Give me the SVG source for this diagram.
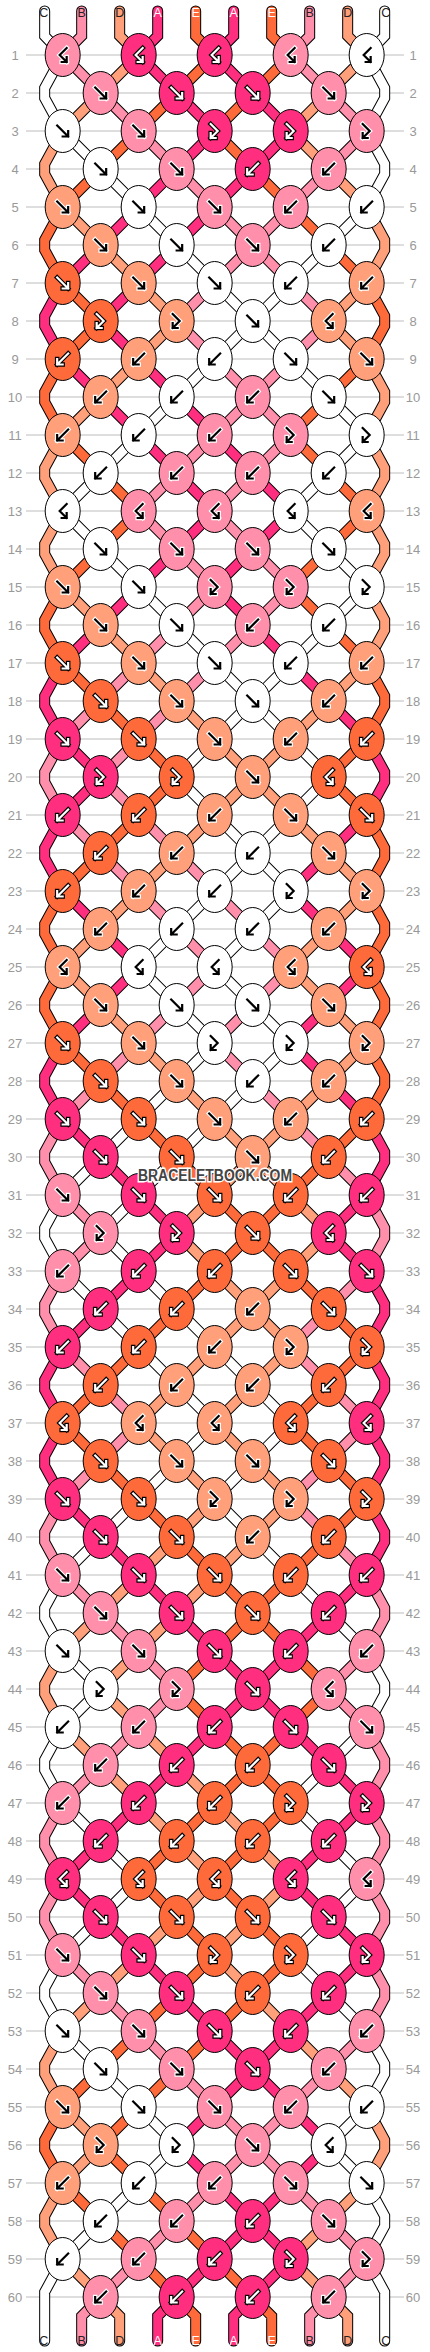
<svg xmlns="http://www.w3.org/2000/svg" xmlns:xlink="http://www.w3.org/1999/xlink" width="430" height="2352" viewBox="0 0 430 2352">
<style>
.o{fill:none;stroke:#000;stroke-width:11;stroke-linecap:round;stroke-linejoin:miter}
.s{fill:none;stroke-width:9;stroke-linecap:round;stroke-linejoin:miter}
.cA{stroke:#ff2e7e}.cB{stroke:#ff8fab}.cC{stroke:#ffffff}.cD{stroke:#ffa07a}.cE{stroke:#ff6a3a}
.w{color:#fff;stroke:#000}.k{color:#000;stroke:#fff}
.rl{fill:none;stroke:#bdbdbd;stroke-width:1}
.rn{font-family:"Liberation Sans",Arial,sans-serif;font-size:13px;fill:#999;text-anchor:middle;dominant-baseline:central}
.sl{font-family:"Liberation Sans",Arial,sans-serif;font-size:12.5px;text-anchor:middle}
.lw{fill:#fff}.lk{fill:#222}
.wm{font-family:"Liberation Sans",Arial,sans-serif;font-weight:bold;font-size:16px;fill:#444;stroke:#fff;stroke-width:3;paint-order:stroke;text-anchor:middle}
</style>
<defs>
<ellipse id="eA" rx="17.5" ry="21.5" fill="#ff2e7e" stroke="#000"/>
<ellipse id="eB" rx="17.5" ry="21.5" fill="#ff8fab" stroke="#000"/>
<ellipse id="eC" rx="17.5" ry="21.5" fill="#ffffff" stroke="#000"/>
<ellipse id="eD" rx="17.5" ry="21.5" fill="#ffa07a" stroke="#000"/>
<ellipse id="eE" rx="17.5" ry="21.5" fill="#ff6a3a" stroke="#000"/>
<g id="f" fill="none" stroke-linecap="square"><path d="M-5.5-5.5L5.5 5.5M0 5.5H5.5V0" stroke-width="4.5"/><path d="M-5.5-5.5L5.5 5.5M0 5.5H5.5V0" stroke="currentColor" stroke-width="2.2"/></g>
<g id="b" fill="none" stroke-linecap="square"><path d="M5.5-5.5L-5.5 5.5M0 5.5H-5.5V0" stroke-width="4.5"/><path d="M5.5-5.5L-5.5 5.5M0 5.5H-5.5V0" stroke="currentColor" stroke-width="2.2"/></g>
<g id="fb" fill="none" stroke-linecap="square"><path d="M-4-7L3 0L-4 7M1 7H-4V2" stroke-width="4.5"/><path d="M-4-7L3 0L-4 7M1 7H-4V2" stroke="currentColor" stroke-width="2.2"/></g>
<g id="bf" fill="none" stroke-linecap="square"><path d="M4-7L-3 0L4 7M-1 7H4V2" stroke-width="4.5"/><path d="M4-7L-3 0L4 7M-1 7H4V2" stroke="currentColor" stroke-width="2.2"/></g>
<path id="xA" d="M19 228L1 261V271L19 304M19 608L1 641V651L19 684M19 760L1 793V803L19 836M19 988L1 1021V1031L19 1064M19 1292L1 1325V1335L19 1368M19 1368L1 1401V1411L19 1444M323 684L341 717V727L323 760M323 1064L341 1097V1107L323 1140M323 1216L341 1249V1259L323 1292M323 1292L341 1325V1335L323 1368M323 1368L341 1401V1411L323 1444M323 1444L341 1477V1487L323 1520M114 -44V-19L95 0M190 -44V-19L171 0M133 2242L114 2261V2286M209 2242L190 2261V2286"/>
<path id="xB" d="M19 684L1 717V727L19 760M19 1064L1 1097V1107L19 1140M19 1216L1 1249V1259L19 1292M19 1444L1 1477V1487L19 1520M19 1748L1 1781V1791L19 1824M19 1824L1 1857V1867L19 1900M323 1140L341 1173V1183L323 1216M323 1520L341 1553V1563L323 1596M323 1672L341 1705V1715L323 1748M323 1748L341 1781V1791L323 1824M323 1824L341 1857V1867L323 1900M323 1900L341 1933V1943L323 1976M38 -44V-19L19 0M266 -44V-19L247 0M57 2242L38 2261V2286M285 2242L266 2261V2286"/>
<path id="xC" d="M19 0L1 33V43L19 76M19 1140L1 1173V1183L19 1216M19 1520L1 1553V1563L19 1596M19 1672L1 1705V1715L19 1748M19 1900L1 1933V1943L19 1976M19 2204L1 2237V2286M323 0L341 33V43L323 76M323 76L341 109V119L323 152M323 1596L341 1629V1639L323 1672M323 1976L341 2009V2019L323 2052M323 2128L341 2161V2171L323 2204M323 2204L341 2237V2286M1 -44V-19L19 0M341 -44V-19L323 0"/>
<path id="xD" d="M19 76L1 109V119L19 152M19 380L1 413V423L19 456M19 456L1 489V499L19 532M19 1596L1 1629V1639L19 1672M19 1976L1 2009V2019L19 2052M19 2128L1 2161V2171L19 2204M323 152L341 185V195L323 228M323 304L341 337V347L323 380M323 380L341 413V423L323 456M323 456L341 489V499L323 532M323 532L341 565V575L323 608M323 2052L341 2085V2095L323 2128M76 -44V-19L95 0M304 -44V-19L323 0M57 2242L76 2261V2286M285 2242L304 2261V2286"/>
<path id="xE" d="M19 152L1 185V195L19 228M19 304L1 337V347L19 380M19 532L1 565V575L19 608M19 836L1 869V879L19 912M19 912L1 945V955L19 988M19 2052L1 2085V2095L19 2128M323 228L341 261V271L323 304M323 608L341 641V651L323 684M323 760L341 793V803L323 836M323 836L341 869V879L323 912M323 912L341 945V955L323 988M323 988L341 1021V1031L323 1064M152 -44V-19L171 0M228 -44V-19L247 0M133 2242L152 2261V2286M209 2242L228 2261V2286"/>
</defs>
<rect width="430" height="2352" fill="#fff"/>
<g id="rows">
<path class="rl" d="M26 55H404M26 93H404M26 131H404M26 169H404M26 207H404M26 245H404M26 283H404M26 321H404M26 359H404M26 397H404M26 435H404M26 473H404M26 511H404M26 549H404M26 587H404M26 625H404M26 663H404M26 701H404M26 739H404M26 777H404M26 815H404M26 853H404M26 891H404M26 929H404M26 967H404M26 1005H404M26 1043H404M26 1081H404M26 1119H404M26 1157H404M26 1195H404M26 1233H404M26 1271H404M26 1309H404M26 1347H404M26 1385H404M26 1423H404M26 1461H404M26 1499H404M26 1537H404M26 1575H404M26 1613H404M26 1651H404M26 1689H404M26 1727H404M26 1765H404M26 1803H404M26 1841H404M26 1879H404M26 1917H404M26 1955H404M26 1993H404M26 2031H404M26 2069H404M26 2107H404M26 2145H404M26 2183H404M26 2221H404M26 2259H404M26 2297H404"/>
<g class="rn">
<text x="15" y="55">1</text><text x="413" y="55">1</text>
<text x="15" y="93">2</text><text x="413" y="93">2</text>
<text x="15" y="131">3</text><text x="413" y="131">3</text>
<text x="15" y="169">4</text><text x="413" y="169">4</text>
<text x="15" y="207">5</text><text x="413" y="207">5</text>
<text x="15" y="245">6</text><text x="413" y="245">6</text>
<text x="15" y="283">7</text><text x="413" y="283">7</text>
<text x="15" y="321">8</text><text x="413" y="321">8</text>
<text x="15" y="359">9</text><text x="413" y="359">9</text>
<text x="15" y="397">10</text><text x="413" y="397">10</text>
<text x="15" y="435">11</text><text x="413" y="435">11</text>
<text x="15" y="473">12</text><text x="413" y="473">12</text>
<text x="15" y="511">13</text><text x="413" y="511">13</text>
<text x="15" y="549">14</text><text x="413" y="549">14</text>
<text x="15" y="587">15</text><text x="413" y="587">15</text>
<text x="15" y="625">16</text><text x="413" y="625">16</text>
<text x="15" y="663">17</text><text x="413" y="663">17</text>
<text x="15" y="701">18</text><text x="413" y="701">18</text>
<text x="15" y="739">19</text><text x="413" y="739">19</text>
<text x="15" y="777">20</text><text x="413" y="777">20</text>
<text x="15" y="815">21</text><text x="413" y="815">21</text>
<text x="15" y="853">22</text><text x="413" y="853">22</text>
<text x="15" y="891">23</text><text x="413" y="891">23</text>
<text x="15" y="929">24</text><text x="413" y="929">24</text>
<text x="15" y="967">25</text><text x="413" y="967">25</text>
<text x="15" y="1005">26</text><text x="413" y="1005">26</text>
<text x="15" y="1043">27</text><text x="413" y="1043">27</text>
<text x="15" y="1081">28</text><text x="413" y="1081">28</text>
<text x="15" y="1119">29</text><text x="413" y="1119">29</text>
<text x="15" y="1157">30</text><text x="413" y="1157">30</text>
<text x="15" y="1195">31</text><text x="413" y="1195">31</text>
<text x="15" y="1233">32</text><text x="413" y="1233">32</text>
<text x="15" y="1271">33</text><text x="413" y="1271">33</text>
<text x="15" y="1309">34</text><text x="413" y="1309">34</text>
<text x="15" y="1347">35</text><text x="413" y="1347">35</text>
<text x="15" y="1385">36</text><text x="413" y="1385">36</text>
<text x="15" y="1423">37</text><text x="413" y="1423">37</text>
<text x="15" y="1461">38</text><text x="413" y="1461">38</text>
<text x="15" y="1499">39</text><text x="413" y="1499">39</text>
<text x="15" y="1537">40</text><text x="413" y="1537">40</text>
<text x="15" y="1575">41</text><text x="413" y="1575">41</text>
<text x="15" y="1613">42</text><text x="413" y="1613">42</text>
<text x="15" y="1651">43</text><text x="413" y="1651">43</text>
<text x="15" y="1689">44</text><text x="413" y="1689">44</text>
<text x="15" y="1727">45</text><text x="413" y="1727">45</text>
<text x="15" y="1765">46</text><text x="413" y="1765">46</text>
<text x="15" y="1803">47</text><text x="413" y="1803">47</text>
<text x="15" y="1841">48</text><text x="413" y="1841">48</text>
<text x="15" y="1879">49</text><text x="413" y="1879">49</text>
<text x="15" y="1917">50</text><text x="413" y="1917">50</text>
<text x="15" y="1955">51</text><text x="413" y="1955">51</text>
<text x="15" y="1993">52</text><text x="413" y="1993">52</text>
<text x="15" y="2031">53</text><text x="413" y="2031">53</text>
<text x="15" y="2069">54</text><text x="413" y="2069">54</text>
<text x="15" y="2107">55</text><text x="413" y="2107">55</text>
<text x="15" y="2145">56</text><text x="413" y="2145">56</text>
<text x="15" y="2183">57</text><text x="413" y="2183">57</text>
<text x="15" y="2221">58</text><text x="413" y="2221">58</text>
<text x="15" y="2259">59</text><text x="413" y="2259">59</text>
<text x="15" y="2297">60</text><text x="413" y="2297">60</text>
</g>
</g>
<g transform="translate(43.67 55)">
<g id="connectors">
<path class="o" d="M247 0l76 76M171 0l152 152M95 0l228 228M19 0l304 304M19 76l304 304M19 152l304 304M19 228l304 304M19 304l304 304M19 380l304 304M19 456l304 304M19 532l304 304M19 608l304 304M19 684l304 304M19 760l304 304M19 836l304 304M19 912l304 304M19 988l304 304M19 1064l304 304M19 1140l304 304M19 1216l304 304M19 1292l304 304M19 1368l304 304M19 1444l304 304M19 1520l304 304M19 1596l304 304M19 1672l304 304M19 1748l304 304M19 1824l304 304M19 1900l304 304M19 1976l266 266M19 2052l190 190M19 2128l114 114M19 2204l38 38M95 0l-76 76M171 0l-152 152M247 0l-228 228M323 0l-304 304M323 76l-304 304M323 152l-304 304M323 228l-304 304M323 304l-304 304M323 380l-304 304M323 456l-304 304M323 532l-304 304M323 608l-304 304M323 684l-304 304M323 760l-304 304M323 836l-304 304M323 912l-304 304M323 988l-304 304M323 1064l-304 304M323 1140l-304 304M323 1216l-304 304M323 1292l-304 304M323 1368l-304 304M323 1444l-304 304M323 1520l-304 304M323 1596l-304 304M323 1672l-304 304M323 1748l-304 304M323 1824l-304 304M323 1900l-304 304M323 1976l-266 266M323 2052l-190 190M323 2128l-114 114M323 2204l-38 38"/>
<use href="#xA" class="o"/><use href="#xB" class="o"/><use href="#xC" class="o"/><use href="#xD" class="o"/><use href="#xE" class="o"/>
<path class="s cA" d="M95 0l38 38M171 0l38 38M133 38l38 38M209 38l38 38M171 76l-38 38M247 76l-38 38M133 114l-38 38M209 114l-38 38M95 152l-38 38M171 152l-38 38M57 190l-38 38M133 190l-38 38M95 228l-38 38M57 266l38 38M19 304l38 38M95 304l38 38M57 342l38 38M133 342l38 38M95 380l38 38M171 380l38 38M133 418l38 38M209 418l38 38M171 456l-38 38M247 456l-38 38M133 494l-38 38M209 494l-38 38M95 532l-38 38M171 532l38 38M57 570l-38 38M209 570l38 38M247 608l38 38M285 646l38 38M19 684l38 38M57 722l-38 38M323 760l-38 38M285 798l-38 38M19 836l38 38M247 836l38 38M57 874l38 38M285 874l38 38M95 912l-38 38M323 912l-38 38M57 950l-38 38M285 950l-38 38M247 988l38 38M285 1026l38 38M19 1064l38 38M57 1102l38 38M95 1140l38 38M323 1140l-38 38M133 1178l-38 38M285 1178l38 38M95 1216l-38 38M57 1254l-38 38M19 1444l38 38M57 1482l38 38M95 1520l38 38M323 1520l-38 38M133 1558l38 38M285 1558l-38 38M171 1596l38 38M247 1596l-38 38M209 1634l-38 38M209 1634l38 38M171 1672l-38 38M247 1672l38 38M133 1710l-38 38M285 1710l38 38M95 1748l-38 38M323 1748l-38 38M57 1786l-38 38M285 1786l-38 38M19 1824l38 38M247 1824l38 38M57 1862l38 38M285 1862l38 38M95 1900l38 38M323 1900l-38 38M133 1938l38 38M285 1938l-38 38M171 1976l38 38M247 1976l-38 38M209 2014l-38 38M209 2014l38 38M171 2052l-38 38M247 2052l38 38M133 2090l38 38M285 2090l-38 38M171 2128l38 38M247 2128l-38 38M209 2166l-38 38M209 2166l38 38M171 2204l-38 38M247 2204l-38 38"/>
<path class="s cB" d="M19 0l38 38M247 0l38 38M57 38l38 38M285 38l38 38M95 76l38 38M323 76l-38 38M133 114l38 38M285 114l-38 38M171 152l38 38M247 152l-38 38M209 190l-38 38M209 190l38 38M171 228l-38 38M247 228l38 38M133 266l38 38M285 266l-38 38M171 304l38 38M247 304l-38 38M209 342l-38 38M209 342l38 38M171 380l-38 38M247 380l-38 38M133 418l-38 38M209 418l-38 38M95 456l38 38M171 456l38 38M133 494l38 38M209 494l38 38M171 532l-38 38M247 532l-38 38M133 570l-38 38M209 570l-38 38M95 608l-38 38M171 608l-38 38M57 646l-38 38M133 646l-38 38M95 684l-38 38M57 722l38 38M19 760l38 38M95 760l38 38M57 798l38 38M133 798l38 38M95 836l38 38M171 836l38 38M133 874l38 38M209 874l38 38M171 912l-38 38M247 912l-38 38M133 950l-38 38M209 950l-38 38M95 988l-38 38M171 988l38 38M57 1026l-38 38M209 1026l38 38M247 1064l38 38M285 1102l38 38M19 1140l38 38M57 1178l-38 38M323 1216l-38 38M285 1254l-38 38M19 1292l38 38M247 1292l38 38M57 1330l38 38M285 1330l38 38M95 1368l-38 38M323 1368l-38 38M57 1406l-38 38M285 1406l-38 38M247 1444l38 38M285 1482l38 38M19 1520l38 38M57 1558l38 38M95 1596l38 38M323 1596l-38 38M133 1634l-38 38M285 1634l38 38M95 1672l-38 38M57 1710l-38 38M19 1900l38 38M57 1938l38 38M95 1976l38 38M323 1976l-38 38M133 2014l38 38M285 2014l-38 38M171 2052l38 38M247 2052l-38 38M209 2090l-38 38M209 2090l38 38M171 2128l-38 38M247 2128l38 38M133 2166l-38 38M285 2166l38 38M95 2204l-38 38M323 2204l-38 38"/>
<path class="s cC" d="M19 76l38 38M57 114l38 38M95 152l38 38M323 152l-38 38M133 190l38 38M285 190l-38 38M171 228l38 38M247 228l-38 38M209 266l-38 38M209 266l38 38M171 304l-38 38M247 304l38 38M133 342l-38 38M285 342l38 38M95 380l-38 38M323 380l-38 38M57 418l-38 38M285 418l-38 38M19 456l38 38M247 456l38 38M57 494l38 38M285 494l38 38M95 532l38 38M323 532l-38 38M133 570l38 38M285 570l-38 38M171 608l38 38M247 608l-38 38M209 646l-38 38M209 646l38 38M171 684l-38 38M247 684l38 38M133 722l38 38M285 722l-38 38M171 760l38 38M247 760l-38 38M209 798l-38 38M209 798l38 38M171 836l-38 38M247 836l-38 38M133 874l-38 38M209 874l-38 38M95 912l38 38M171 912l38 38M133 950l38 38M209 950l38 38M171 988l-38 38M247 988l-38 38M133 1026l-38 38M209 1026l-38 38M95 1064l-38 38M171 1064l-38 38M57 1102l-38 38M133 1102l-38 38M95 1140l-38 38M57 1178l38 38M19 1216l38 38M95 1216l38 38M57 1254l38 38M133 1254l38 38M95 1292l38 38M171 1292l38 38M133 1330l38 38M209 1330l38 38M171 1368l-38 38M247 1368l-38 38M133 1406l-38 38M209 1406l-38 38M95 1444l-38 38M171 1444l38 38M57 1482l-38 38M209 1482l38 38M247 1520l38 38M285 1558l38 38M19 1596l38 38M57 1634l-38 38M323 1672l-38 38M285 1710l-38 38M19 1748l38 38M247 1748l38 38M57 1786l38 38M285 1786l38 38M95 1824l-38 38M323 1824l-38 38M57 1862l-38 38M285 1862l-38 38M247 1900l38 38M285 1938l38 38M19 1976l38 38M57 2014l38 38M95 2052l38 38M323 2052l-38 38M133 2090l-38 38M285 2090l38 38M95 2128l-38 38M57 2166l-38 38"/>
<path class="s cD" d="M95 0l-38 38M323 0l-38 38M57 38l-38 38M285 38l-38 38M247 76l38 38M285 114l38 38M19 152l38 38M57 190l38 38M95 228l38 38M323 228l-38 38M133 266l-38 38M285 266l38 38M95 304l-38 38M57 342l-38 38M19 532l38 38M57 570l38 38M95 608l38 38M323 608l-38 38M133 646l38 38M285 646l-38 38M171 684l38 38M247 684l-38 38M209 722l-38 38M209 722l38 38M171 760l-38 38M247 760l38 38M133 798l-38 38M285 798l38 38M95 836l-38 38M323 836l-38 38M57 874l-38 38M285 874l-38 38M19 912l38 38M247 912l38 38M57 950l38 38M285 950l38 38M95 988l38 38M323 988l-38 38M133 1026l38 38M285 1026l-38 38M171 1064l38 38M247 1064l-38 38M209 1102l-38 38M209 1102l38 38M171 1140l-38 38M247 1140l38 38M133 1178l38 38M285 1178l-38 38M171 1216l38 38M247 1216l-38 38M209 1254l-38 38M209 1254l38 38M171 1292l-38 38M247 1292l-38 38M133 1330l-38 38M209 1330l-38 38M95 1368l38 38M171 1368l38 38M133 1406l38 38M209 1406l38 38M171 1444l-38 38M247 1444l-38 38M133 1482l-38 38M209 1482l-38 38M95 1520l-38 38M171 1520l-38 38M57 1558l-38 38M133 1558l-38 38M95 1596l-38 38M57 1634l38 38M19 1672l38 38M95 1672l38 38M57 1710l38 38M133 1710l38 38M95 1748l38 38M171 1748l38 38M133 1786l38 38M209 1786l38 38M171 1824l-38 38M247 1824l-38 38M133 1862l-38 38M209 1862l-38 38M95 1900l-38 38M171 1900l38 38M57 1938l-38 38M209 1938l38 38M247 1976l38 38M285 2014l38 38M19 2052l38 38M57 2090l-38 38M323 2128l-38 38M285 2166l-38 38M19 2204l38 38M247 2204l38 38"/>
<path class="s cE" d="M171 0l-38 38M247 0l-38 38M133 38l-38 38M209 38l-38 38M95 76l-38 38M171 76l38 38M57 114l-38 38M209 114l38 38M247 152l38 38M285 190l38 38M19 228l38 38M57 266l-38 38M323 304l-38 38M285 342l-38 38M19 380l38 38M247 380l38 38M57 418l38 38M285 418l38 38M95 456l-38 38M323 456l-38 38M57 494l-38 38M285 494l-38 38M247 532l38 38M285 570l38 38M19 608l38 38M57 646l38 38M95 684l38 38M323 684l-38 38M133 722l-38 38M285 722l38 38M95 760l-38 38M57 798l-38 38M19 988l38 38M57 1026l38 38M95 1064l38 38M323 1064l-38 38M133 1102l38 38M285 1102l-38 38M171 1140l38 38M247 1140l-38 38M209 1178l-38 38M209 1178l38 38M171 1216l-38 38M247 1216l38 38M133 1254l-38 38M285 1254l38 38M95 1292l-38 38M323 1292l-38 38M57 1330l-38 38M285 1330l-38 38M19 1368l38 38M247 1368l38 38M57 1406l38 38M285 1406l38 38M95 1444l38 38M323 1444l-38 38M133 1482l38 38M285 1482l-38 38M171 1520l38 38M247 1520l-38 38M209 1558l-38 38M209 1558l38 38M171 1596l-38 38M247 1596l38 38M133 1634l38 38M285 1634l-38 38M171 1672l38 38M247 1672l-38 38M209 1710l-38 38M209 1710l38 38M171 1748l-38 38M247 1748l-38 38M133 1786l-38 38M209 1786l-38 38M95 1824l38 38M171 1824l38 38M133 1862l38 38M209 1862l38 38M171 1900l-38 38M247 1900l-38 38M133 1938l-38 38M209 1938l-38 38M95 1976l-38 38M171 1976l-38 38M57 2014l-38 38M133 2014l-38 38M95 2052l-38 38M57 2090l38 38M19 2128l38 38M95 2128l38 38M57 2166l38 38M133 2166l38 38M95 2204l38 38M171 2204l38 38"/>
<use href="#xA" class="s cA"/><use href="#xB" class="s cB"/><use href="#xC" class="s cC"/><use href="#xD" class="s cD"/><use href="#xE" class="s cE"/>
</g>
<g id="knots">
<g id="k1-1" class="k" transform="translate(19 0)"><use href="#eB"/><use href="#bf"/></g>
<g id="k1-2" class="w" transform="translate(95 0)"><use href="#eA"/><use href="#bf"/></g>
<g id="k1-3" class="w" transform="translate(171 0)"><use href="#eA"/><use href="#bf"/></g>
<g id="k1-4" class="k" transform="translate(247 0)"><use href="#eB"/><use href="#bf"/></g>
<g id="k1-5" class="k" transform="translate(323 0)"><use href="#eC"/><use href="#bf"/></g>
<g id="k2-1" class="k" transform="translate(57 38)"><use href="#eB"/><use href="#f"/></g>
<g id="k2-2" class="w" transform="translate(133 38)"><use href="#eA"/><use href="#f"/></g>
<g id="k2-3" class="w" transform="translate(209 38)"><use href="#eA"/><use href="#f"/></g>
<g id="k2-4" class="k" transform="translate(285 38)"><use href="#eB"/><use href="#f"/></g>
<g id="k3-1" class="k" transform="translate(19 76)"><use href="#eC"/><use href="#f"/></g>
<g id="k3-2" class="k" transform="translate(95 76)"><use href="#eB"/><use href="#f"/></g>
<g id="k3-3" class="w" transform="translate(171 76)"><use href="#eA"/><use href="#fb"/></g>
<g id="k3-4" class="w" transform="translate(247 76)"><use href="#eA"/><use href="#fb"/></g>
<g id="k3-5" class="k" transform="translate(323 76)"><use href="#eB"/><use href="#fb"/></g>
<g id="k4-1" class="k" transform="translate(57 114)"><use href="#eC"/><use href="#f"/></g>
<g id="k4-2" class="k" transform="translate(133 114)"><use href="#eB"/><use href="#f"/></g>
<g id="k4-3" class="w" transform="translate(209 114)"><use href="#eA"/><use href="#b"/></g>
<g id="k4-4" class="k" transform="translate(285 114)"><use href="#eB"/><use href="#b"/></g>
<g id="k5-1" class="k" transform="translate(19 152)"><use href="#eD"/><use href="#f"/></g>
<g id="k5-2" class="k" transform="translate(95 152)"><use href="#eC"/><use href="#f"/></g>
<g id="k5-3" class="k" transform="translate(171 152)"><use href="#eB"/><use href="#f"/></g>
<g id="k5-4" class="k" transform="translate(247 152)"><use href="#eB"/><use href="#b"/></g>
<g id="k5-5" class="k" transform="translate(323 152)"><use href="#eC"/><use href="#b"/></g>
<g id="k6-1" class="k" transform="translate(57 190)"><use href="#eD"/><use href="#f"/></g>
<g id="k6-2" class="k" transform="translate(133 190)"><use href="#eC"/><use href="#f"/></g>
<g id="k6-3" class="k" transform="translate(209 190)"><use href="#eB"/><use href="#f"/></g>
<g id="k6-4" class="k" transform="translate(285 190)"><use href="#eC"/><use href="#b"/></g>
<g id="k7-1" class="w" transform="translate(19 228)"><use href="#eE"/><use href="#f"/></g>
<g id="k7-2" class="k" transform="translate(95 228)"><use href="#eD"/><use href="#f"/></g>
<g id="k7-3" class="k" transform="translate(171 228)"><use href="#eC"/><use href="#f"/></g>
<g id="k7-4" class="k" transform="translate(247 228)"><use href="#eC"/><use href="#b"/></g>
<g id="k7-5" class="k" transform="translate(323 228)"><use href="#eD"/><use href="#b"/></g>
<g id="k8-1" class="w" transform="translate(57 266)"><use href="#eE"/><use href="#fb"/></g>
<g id="k8-2" class="k" transform="translate(133 266)"><use href="#eD"/><use href="#fb"/></g>
<g id="k8-3" class="k" transform="translate(209 266)"><use href="#eC"/><use href="#f"/></g>
<g id="k8-4" class="k" transform="translate(285 266)"><use href="#eD"/><use href="#bf"/></g>
<g id="k9-1" class="w" transform="translate(19 304)"><use href="#eE"/><use href="#b"/></g>
<g id="k9-2" class="k" transform="translate(95 304)"><use href="#eD"/><use href="#b"/></g>
<g id="k9-3" class="k" transform="translate(171 304)"><use href="#eC"/><use href="#b"/></g>
<g id="k9-4" class="k" transform="translate(247 304)"><use href="#eC"/><use href="#f"/></g>
<g id="k9-5" class="k" transform="translate(323 304)"><use href="#eD"/><use href="#f"/></g>
<g id="k10-1" class="k" transform="translate(57 342)"><use href="#eD"/><use href="#b"/></g>
<g id="k10-2" class="k" transform="translate(133 342)"><use href="#eC"/><use href="#b"/></g>
<g id="k10-3" class="k" transform="translate(209 342)"><use href="#eB"/><use href="#b"/></g>
<g id="k10-4" class="k" transform="translate(285 342)"><use href="#eC"/><use href="#f"/></g>
<g id="k11-1" class="k" transform="translate(19 380)"><use href="#eD"/><use href="#b"/></g>
<g id="k11-2" class="k" transform="translate(95 380)"><use href="#eC"/><use href="#b"/></g>
<g id="k11-3" class="k" transform="translate(171 380)"><use href="#eB"/><use href="#b"/></g>
<g id="k11-4" class="k" transform="translate(247 380)"><use href="#eB"/><use href="#fb"/></g>
<g id="k11-5" class="k" transform="translate(323 380)"><use href="#eC"/><use href="#fb"/></g>
<g id="k12-1" class="k" transform="translate(57 418)"><use href="#eC"/><use href="#b"/></g>
<g id="k12-2" class="k" transform="translate(133 418)"><use href="#eB"/><use href="#b"/></g>
<g id="k12-3" class="k" transform="translate(209 418)"><use href="#eB"/><use href="#b"/></g>
<g id="k12-4" class="k" transform="translate(285 418)"><use href="#eC"/><use href="#b"/></g>
<g id="k13-1" class="k" transform="translate(19 456)"><use href="#eC"/><use href="#bf"/></g>
<g id="k13-2" class="k" transform="translate(95 456)"><use href="#eB"/><use href="#bf"/></g>
<g id="k13-3" class="k" transform="translate(171 456)"><use href="#eB"/><use href="#bf"/></g>
<g id="k13-4" class="k" transform="translate(247 456)"><use href="#eC"/><use href="#bf"/></g>
<g id="k13-5" class="k" transform="translate(323 456)"><use href="#eD"/><use href="#bf"/></g>
<g id="k14-1" class="k" transform="translate(57 494)"><use href="#eC"/><use href="#f"/></g>
<g id="k14-2" class="k" transform="translate(133 494)"><use href="#eB"/><use href="#f"/></g>
<g id="k14-3" class="k" transform="translate(209 494)"><use href="#eB"/><use href="#f"/></g>
<g id="k14-4" class="k" transform="translate(285 494)"><use href="#eC"/><use href="#f"/></g>
<g id="k15-1" class="k" transform="translate(19 532)"><use href="#eD"/><use href="#f"/></g>
<g id="k15-2" class="k" transform="translate(95 532)"><use href="#eC"/><use href="#f"/></g>
<g id="k15-3" class="k" transform="translate(171 532)"><use href="#eB"/><use href="#fb"/></g>
<g id="k15-4" class="k" transform="translate(247 532)"><use href="#eB"/><use href="#fb"/></g>
<g id="k15-5" class="k" transform="translate(323 532)"><use href="#eC"/><use href="#fb"/></g>
<g id="k16-1" class="k" transform="translate(57 570)"><use href="#eD"/><use href="#f"/></g>
<g id="k16-2" class="k" transform="translate(133 570)"><use href="#eC"/><use href="#f"/></g>
<g id="k16-3" class="k" transform="translate(209 570)"><use href="#eB"/><use href="#b"/></g>
<g id="k16-4" class="k" transform="translate(285 570)"><use href="#eC"/><use href="#b"/></g>
<g id="k17-1" class="w" transform="translate(19 608)"><use href="#eE"/><use href="#f"/></g>
<g id="k17-2" class="k" transform="translate(95 608)"><use href="#eD"/><use href="#f"/></g>
<g id="k17-3" class="k" transform="translate(171 608)"><use href="#eC"/><use href="#f"/></g>
<g id="k17-4" class="k" transform="translate(247 608)"><use href="#eC"/><use href="#b"/></g>
<g id="k17-5" class="k" transform="translate(323 608)"><use href="#eD"/><use href="#b"/></g>
<g id="k18-1" class="w" transform="translate(57 646)"><use href="#eE"/><use href="#f"/></g>
<g id="k18-2" class="k" transform="translate(133 646)"><use href="#eD"/><use href="#f"/></g>
<g id="k18-3" class="k" transform="translate(209 646)"><use href="#eC"/><use href="#f"/></g>
<g id="k18-4" class="k" transform="translate(285 646)"><use href="#eD"/><use href="#b"/></g>
<g id="k19-1" class="w" transform="translate(19 684)"><use href="#eA"/><use href="#f"/></g>
<g id="k19-2" class="w" transform="translate(95 684)"><use href="#eE"/><use href="#f"/></g>
<g id="k19-3" class="k" transform="translate(171 684)"><use href="#eD"/><use href="#f"/></g>
<g id="k19-4" class="k" transform="translate(247 684)"><use href="#eD"/><use href="#b"/></g>
<g id="k19-5" class="w" transform="translate(323 684)"><use href="#eE"/><use href="#b"/></g>
<g id="k20-1" class="w" transform="translate(57 722)"><use href="#eA"/><use href="#fb"/></g>
<g id="k20-2" class="w" transform="translate(133 722)"><use href="#eE"/><use href="#fb"/></g>
<g id="k20-3" class="k" transform="translate(209 722)"><use href="#eD"/><use href="#f"/></g>
<g id="k20-4" class="w" transform="translate(285 722)"><use href="#eE"/><use href="#bf"/></g>
<g id="k21-1" class="w" transform="translate(19 760)"><use href="#eA"/><use href="#b"/></g>
<g id="k21-2" class="w" transform="translate(95 760)"><use href="#eE"/><use href="#b"/></g>
<g id="k21-3" class="k" transform="translate(171 760)"><use href="#eD"/><use href="#b"/></g>
<g id="k21-4" class="k" transform="translate(247 760)"><use href="#eD"/><use href="#f"/></g>
<g id="k21-5" class="w" transform="translate(323 760)"><use href="#eE"/><use href="#f"/></g>
<g id="k22-1" class="w" transform="translate(57 798)"><use href="#eE"/><use href="#b"/></g>
<g id="k22-2" class="k" transform="translate(133 798)"><use href="#eD"/><use href="#b"/></g>
<g id="k22-3" class="k" transform="translate(209 798)"><use href="#eC"/><use href="#b"/></g>
<g id="k22-4" class="k" transform="translate(285 798)"><use href="#eD"/><use href="#f"/></g>
<g id="k23-1" class="w" transform="translate(19 836)"><use href="#eE"/><use href="#b"/></g>
<g id="k23-2" class="k" transform="translate(95 836)"><use href="#eD"/><use href="#b"/></g>
<g id="k23-3" class="k" transform="translate(171 836)"><use href="#eC"/><use href="#b"/></g>
<g id="k23-4" class="k" transform="translate(247 836)"><use href="#eC"/><use href="#fb"/></g>
<g id="k23-5" class="k" transform="translate(323 836)"><use href="#eD"/><use href="#fb"/></g>
<g id="k24-1" class="k" transform="translate(57 874)"><use href="#eD"/><use href="#b"/></g>
<g id="k24-2" class="k" transform="translate(133 874)"><use href="#eC"/><use href="#b"/></g>
<g id="k24-3" class="k" transform="translate(209 874)"><use href="#eC"/><use href="#b"/></g>
<g id="k24-4" class="k" transform="translate(285 874)"><use href="#eD"/><use href="#b"/></g>
<g id="k25-1" class="k" transform="translate(19 912)"><use href="#eD"/><use href="#bf"/></g>
<g id="k25-2" class="k" transform="translate(95 912)"><use href="#eC"/><use href="#bf"/></g>
<g id="k25-3" class="k" transform="translate(171 912)"><use href="#eC"/><use href="#bf"/></g>
<g id="k25-4" class="k" transform="translate(247 912)"><use href="#eD"/><use href="#bf"/></g>
<g id="k25-5" class="w" transform="translate(323 912)"><use href="#eE"/><use href="#bf"/></g>
<g id="k26-1" class="k" transform="translate(57 950)"><use href="#eD"/><use href="#f"/></g>
<g id="k26-2" class="k" transform="translate(133 950)"><use href="#eC"/><use href="#f"/></g>
<g id="k26-3" class="k" transform="translate(209 950)"><use href="#eC"/><use href="#f"/></g>
<g id="k26-4" class="k" transform="translate(285 950)"><use href="#eD"/><use href="#f"/></g>
<g id="k27-1" class="w" transform="translate(19 988)"><use href="#eE"/><use href="#f"/></g>
<g id="k27-2" class="k" transform="translate(95 988)"><use href="#eD"/><use href="#f"/></g>
<g id="k27-3" class="k" transform="translate(171 988)"><use href="#eC"/><use href="#fb"/></g>
<g id="k27-4" class="k" transform="translate(247 988)"><use href="#eC"/><use href="#fb"/></g>
<g id="k27-5" class="k" transform="translate(323 988)"><use href="#eD"/><use href="#fb"/></g>
<g id="k28-1" class="w" transform="translate(57 1026)"><use href="#eE"/><use href="#f"/></g>
<g id="k28-2" class="k" transform="translate(133 1026)"><use href="#eD"/><use href="#f"/></g>
<g id="k28-3" class="k" transform="translate(209 1026)"><use href="#eC"/><use href="#b"/></g>
<g id="k28-4" class="k" transform="translate(285 1026)"><use href="#eD"/><use href="#b"/></g>
<g id="k29-1" class="w" transform="translate(19 1064)"><use href="#eA"/><use href="#f"/></g>
<g id="k29-2" class="w" transform="translate(95 1064)"><use href="#eE"/><use href="#f"/></g>
<g id="k29-3" class="k" transform="translate(171 1064)"><use href="#eD"/><use href="#f"/></g>
<g id="k29-4" class="k" transform="translate(247 1064)"><use href="#eD"/><use href="#b"/></g>
<g id="k29-5" class="w" transform="translate(323 1064)"><use href="#eE"/><use href="#b"/></g>
<g id="k30-1" class="w" transform="translate(57 1102)"><use href="#eA"/><use href="#f"/></g>
<g id="k30-2" class="w" transform="translate(133 1102)"><use href="#eE"/><use href="#f"/></g>
<g id="k30-3" class="k" transform="translate(209 1102)"><use href="#eD"/><use href="#f"/></g>
<g id="k30-4" class="w" transform="translate(285 1102)"><use href="#eE"/><use href="#b"/></g>
<g id="k31-1" class="k" transform="translate(19 1140)"><use href="#eB"/><use href="#f"/></g>
<g id="k31-2" class="w" transform="translate(95 1140)"><use href="#eA"/><use href="#f"/></g>
<g id="k31-3" class="w" transform="translate(171 1140)"><use href="#eE"/><use href="#f"/></g>
<g id="k31-4" class="w" transform="translate(247 1140)"><use href="#eE"/><use href="#b"/></g>
<g id="k31-5" class="w" transform="translate(323 1140)"><use href="#eA"/><use href="#b"/></g>
<g id="k32-1" class="k" transform="translate(57 1178)"><use href="#eB"/><use href="#fb"/></g>
<g id="k32-2" class="w" transform="translate(133 1178)"><use href="#eA"/><use href="#fb"/></g>
<g id="k32-3" class="w" transform="translate(209 1178)"><use href="#eE"/><use href="#f"/></g>
<g id="k32-4" class="w" transform="translate(285 1178)"><use href="#eA"/><use href="#bf"/></g>
<g id="k33-1" class="k" transform="translate(19 1216)"><use href="#eB"/><use href="#b"/></g>
<g id="k33-2" class="w" transform="translate(95 1216)"><use href="#eA"/><use href="#b"/></g>
<g id="k33-3" class="w" transform="translate(171 1216)"><use href="#eE"/><use href="#b"/></g>
<g id="k33-4" class="w" transform="translate(247 1216)"><use href="#eE"/><use href="#f"/></g>
<g id="k33-5" class="w" transform="translate(323 1216)"><use href="#eA"/><use href="#f"/></g>
<g id="k34-1" class="w" transform="translate(57 1254)"><use href="#eA"/><use href="#b"/></g>
<g id="k34-2" class="w" transform="translate(133 1254)"><use href="#eE"/><use href="#b"/></g>
<g id="k34-3" class="k" transform="translate(209 1254)"><use href="#eD"/><use href="#b"/></g>
<g id="k34-4" class="w" transform="translate(285 1254)"><use href="#eE"/><use href="#f"/></g>
<g id="k35-1" class="w" transform="translate(19 1292)"><use href="#eA"/><use href="#b"/></g>
<g id="k35-2" class="w" transform="translate(95 1292)"><use href="#eE"/><use href="#b"/></g>
<g id="k35-3" class="k" transform="translate(171 1292)"><use href="#eD"/><use href="#b"/></g>
<g id="k35-4" class="k" transform="translate(247 1292)"><use href="#eD"/><use href="#fb"/></g>
<g id="k35-5" class="w" transform="translate(323 1292)"><use href="#eE"/><use href="#fb"/></g>
<g id="k36-1" class="w" transform="translate(57 1330)"><use href="#eE"/><use href="#b"/></g>
<g id="k36-2" class="k" transform="translate(133 1330)"><use href="#eD"/><use href="#b"/></g>
<g id="k36-3" class="k" transform="translate(209 1330)"><use href="#eD"/><use href="#b"/></g>
<g id="k36-4" class="w" transform="translate(285 1330)"><use href="#eE"/><use href="#b"/></g>
<g id="k37-1" class="w" transform="translate(19 1368)"><use href="#eE"/><use href="#bf"/></g>
<g id="k37-2" class="k" transform="translate(95 1368)"><use href="#eD"/><use href="#bf"/></g>
<g id="k37-3" class="k" transform="translate(171 1368)"><use href="#eD"/><use href="#bf"/></g>
<g id="k37-4" class="w" transform="translate(247 1368)"><use href="#eE"/><use href="#bf"/></g>
<g id="k37-5" class="w" transform="translate(323 1368)"><use href="#eA"/><use href="#bf"/></g>
<g id="k38-1" class="w" transform="translate(57 1406)"><use href="#eE"/><use href="#f"/></g>
<g id="k38-2" class="k" transform="translate(133 1406)"><use href="#eD"/><use href="#f"/></g>
<g id="k38-3" class="k" transform="translate(209 1406)"><use href="#eD"/><use href="#f"/></g>
<g id="k38-4" class="w" transform="translate(285 1406)"><use href="#eE"/><use href="#f"/></g>
<g id="k39-1" class="w" transform="translate(19 1444)"><use href="#eA"/><use href="#f"/></g>
<g id="k39-2" class="w" transform="translate(95 1444)"><use href="#eE"/><use href="#f"/></g>
<g id="k39-3" class="k" transform="translate(171 1444)"><use href="#eD"/><use href="#fb"/></g>
<g id="k39-4" class="k" transform="translate(247 1444)"><use href="#eD"/><use href="#fb"/></g>
<g id="k39-5" class="w" transform="translate(323 1444)"><use href="#eE"/><use href="#fb"/></g>
<g id="k40-1" class="w" transform="translate(57 1482)"><use href="#eA"/><use href="#f"/></g>
<g id="k40-2" class="w" transform="translate(133 1482)"><use href="#eE"/><use href="#f"/></g>
<g id="k40-3" class="k" transform="translate(209 1482)"><use href="#eD"/><use href="#b"/></g>
<g id="k40-4" class="w" transform="translate(285 1482)"><use href="#eE"/><use href="#b"/></g>
<g id="k41-1" class="k" transform="translate(19 1520)"><use href="#eB"/><use href="#f"/></g>
<g id="k41-2" class="w" transform="translate(95 1520)"><use href="#eA"/><use href="#f"/></g>
<g id="k41-3" class="w" transform="translate(171 1520)"><use href="#eE"/><use href="#f"/></g>
<g id="k41-4" class="w" transform="translate(247 1520)"><use href="#eE"/><use href="#b"/></g>
<g id="k41-5" class="w" transform="translate(323 1520)"><use href="#eA"/><use href="#b"/></g>
<g id="k42-1" class="k" transform="translate(57 1558)"><use href="#eB"/><use href="#f"/></g>
<g id="k42-2" class="w" transform="translate(133 1558)"><use href="#eA"/><use href="#f"/></g>
<g id="k42-3" class="w" transform="translate(209 1558)"><use href="#eE"/><use href="#f"/></g>
<g id="k42-4" class="w" transform="translate(285 1558)"><use href="#eA"/><use href="#b"/></g>
<g id="k43-1" class="k" transform="translate(19 1596)"><use href="#eC"/><use href="#f"/></g>
<g id="k43-2" class="k" transform="translate(95 1596)"><use href="#eB"/><use href="#f"/></g>
<g id="k43-3" class="w" transform="translate(171 1596)"><use href="#eA"/><use href="#f"/></g>
<g id="k43-4" class="w" transform="translate(247 1596)"><use href="#eA"/><use href="#b"/></g>
<g id="k43-5" class="k" transform="translate(323 1596)"><use href="#eB"/><use href="#b"/></g>
<g id="k44-1" class="k" transform="translate(57 1634)"><use href="#eC"/><use href="#fb"/></g>
<g id="k44-2" class="k" transform="translate(133 1634)"><use href="#eB"/><use href="#fb"/></g>
<g id="k44-3" class="w" transform="translate(209 1634)"><use href="#eA"/><use href="#f"/></g>
<g id="k44-4" class="k" transform="translate(285 1634)"><use href="#eB"/><use href="#bf"/></g>
<g id="k45-1" class="k" transform="translate(19 1672)"><use href="#eC"/><use href="#b"/></g>
<g id="k45-2" class="k" transform="translate(95 1672)"><use href="#eB"/><use href="#b"/></g>
<g id="k45-3" class="w" transform="translate(171 1672)"><use href="#eA"/><use href="#b"/></g>
<g id="k45-4" class="w" transform="translate(247 1672)"><use href="#eA"/><use href="#f"/></g>
<g id="k45-5" class="k" transform="translate(323 1672)"><use href="#eB"/><use href="#f"/></g>
<g id="k46-1" class="k" transform="translate(57 1710)"><use href="#eB"/><use href="#b"/></g>
<g id="k46-2" class="w" transform="translate(133 1710)"><use href="#eA"/><use href="#b"/></g>
<g id="k46-3" class="w" transform="translate(209 1710)"><use href="#eE"/><use href="#b"/></g>
<g id="k46-4" class="w" transform="translate(285 1710)"><use href="#eA"/><use href="#f"/></g>
<g id="k47-1" class="k" transform="translate(19 1748)"><use href="#eB"/><use href="#b"/></g>
<g id="k47-2" class="w" transform="translate(95 1748)"><use href="#eA"/><use href="#b"/></g>
<g id="k47-3" class="w" transform="translate(171 1748)"><use href="#eE"/><use href="#b"/></g>
<g id="k47-4" class="w" transform="translate(247 1748)"><use href="#eE"/><use href="#fb"/></g>
<g id="k47-5" class="w" transform="translate(323 1748)"><use href="#eA"/><use href="#fb"/></g>
<g id="k48-1" class="w" transform="translate(57 1786)"><use href="#eA"/><use href="#b"/></g>
<g id="k48-2" class="w" transform="translate(133 1786)"><use href="#eE"/><use href="#b"/></g>
<g id="k48-3" class="w" transform="translate(209 1786)"><use href="#eE"/><use href="#b"/></g>
<g id="k48-4" class="w" transform="translate(285 1786)"><use href="#eA"/><use href="#b"/></g>
<g id="k49-1" class="w" transform="translate(19 1824)"><use href="#eA"/><use href="#bf"/></g>
<g id="k49-2" class="w" transform="translate(95 1824)"><use href="#eE"/><use href="#bf"/></g>
<g id="k49-3" class="w" transform="translate(171 1824)"><use href="#eE"/><use href="#bf"/></g>
<g id="k49-4" class="w" transform="translate(247 1824)"><use href="#eA"/><use href="#bf"/></g>
<g id="k49-5" class="k" transform="translate(323 1824)"><use href="#eB"/><use href="#bf"/></g>
<g id="k50-1" class="w" transform="translate(57 1862)"><use href="#eA"/><use href="#f"/></g>
<g id="k50-2" class="w" transform="translate(133 1862)"><use href="#eE"/><use href="#f"/></g>
<g id="k50-3" class="w" transform="translate(209 1862)"><use href="#eE"/><use href="#f"/></g>
<g id="k50-4" class="w" transform="translate(285 1862)"><use href="#eA"/><use href="#f"/></g>
<g id="k51-1" class="k" transform="translate(19 1900)"><use href="#eB"/><use href="#f"/></g>
<g id="k51-2" class="w" transform="translate(95 1900)"><use href="#eA"/><use href="#f"/></g>
<g id="k51-3" class="w" transform="translate(171 1900)"><use href="#eE"/><use href="#fb"/></g>
<g id="k51-4" class="w" transform="translate(247 1900)"><use href="#eE"/><use href="#fb"/></g>
<g id="k51-5" class="w" transform="translate(323 1900)"><use href="#eA"/><use href="#fb"/></g>
<g id="k52-1" class="k" transform="translate(57 1938)"><use href="#eB"/><use href="#f"/></g>
<g id="k52-2" class="w" transform="translate(133 1938)"><use href="#eA"/><use href="#f"/></g>
<g id="k52-3" class="w" transform="translate(209 1938)"><use href="#eE"/><use href="#b"/></g>
<g id="k52-4" class="w" transform="translate(285 1938)"><use href="#eA"/><use href="#b"/></g>
<g id="k53-1" class="k" transform="translate(19 1976)"><use href="#eC"/><use href="#f"/></g>
<g id="k53-2" class="k" transform="translate(95 1976)"><use href="#eB"/><use href="#f"/></g>
<g id="k53-3" class="w" transform="translate(171 1976)"><use href="#eA"/><use href="#f"/></g>
<g id="k53-4" class="w" transform="translate(247 1976)"><use href="#eA"/><use href="#b"/></g>
<g id="k53-5" class="k" transform="translate(323 1976)"><use href="#eB"/><use href="#b"/></g>
<g id="k54-1" class="k" transform="translate(57 2014)"><use href="#eC"/><use href="#f"/></g>
<g id="k54-2" class="k" transform="translate(133 2014)"><use href="#eB"/><use href="#f"/></g>
<g id="k54-3" class="w" transform="translate(209 2014)"><use href="#eA"/><use href="#f"/></g>
<g id="k54-4" class="k" transform="translate(285 2014)"><use href="#eB"/><use href="#b"/></g>
<g id="k55-1" class="k" transform="translate(19 2052)"><use href="#eD"/><use href="#f"/></g>
<g id="k55-2" class="k" transform="translate(95 2052)"><use href="#eC"/><use href="#f"/></g>
<g id="k55-3" class="k" transform="translate(171 2052)"><use href="#eB"/><use href="#f"/></g>
<g id="k55-4" class="k" transform="translate(247 2052)"><use href="#eB"/><use href="#b"/></g>
<g id="k55-5" class="k" transform="translate(323 2052)"><use href="#eC"/><use href="#b"/></g>
<g id="k56-1" class="k" transform="translate(57 2090)"><use href="#eD"/><use href="#fb"/></g>
<g id="k56-2" class="k" transform="translate(133 2090)"><use href="#eC"/><use href="#fb"/></g>
<g id="k56-3" class="k" transform="translate(209 2090)"><use href="#eB"/><use href="#f"/></g>
<g id="k56-4" class="k" transform="translate(285 2090)"><use href="#eC"/><use href="#bf"/></g>
<g id="k57-1" class="k" transform="translate(19 2128)"><use href="#eD"/><use href="#b"/></g>
<g id="k57-2" class="k" transform="translate(95 2128)"><use href="#eC"/><use href="#b"/></g>
<g id="k57-3" class="k" transform="translate(171 2128)"><use href="#eB"/><use href="#b"/></g>
<g id="k57-4" class="k" transform="translate(247 2128)"><use href="#eB"/><use href="#f"/></g>
<g id="k57-5" class="k" transform="translate(323 2128)"><use href="#eC"/><use href="#f"/></g>
<g id="k58-1" class="k" transform="translate(57 2166)"><use href="#eC"/><use href="#b"/></g>
<g id="k58-2" class="k" transform="translate(133 2166)"><use href="#eB"/><use href="#b"/></g>
<g id="k58-3" class="w" transform="translate(209 2166)"><use href="#eA"/><use href="#b"/></g>
<g id="k58-4" class="k" transform="translate(285 2166)"><use href="#eB"/><use href="#f"/></g>
<g id="k59-1" class="k" transform="translate(19 2204)"><use href="#eC"/><use href="#b"/></g>
<g id="k59-2" class="k" transform="translate(95 2204)"><use href="#eB"/><use href="#b"/></g>
<g id="k59-3" class="w" transform="translate(171 2204)"><use href="#eA"/><use href="#b"/></g>
<g id="k59-4" class="w" transform="translate(247 2204)"><use href="#eA"/><use href="#fb"/></g>
<g id="k59-5" class="k" transform="translate(323 2204)"><use href="#eB"/><use href="#fb"/></g>
<g id="k60-1" class="k" transform="translate(57 2242)"><use href="#eB"/><use href="#b"/></g>
<g id="k60-2" class="w" transform="translate(133 2242)"><use href="#eA"/><use href="#b"/></g>
<g id="k60-3" class="w" transform="translate(209 2242)"><use href="#eA"/><use href="#b"/></g>
<g id="k60-4" class="k" transform="translate(285 2242)"><use href="#eB"/><use href="#b"/></g>
</g>
<g id="string-labels" class="sl">
<text x="0" y="-38" class="lk">C</text><text x="38" y="-38" class="lk">B</text><text x="76" y="-38" class="lk">D</text><text x="114" y="-38" class="lw">A</text><text x="152" y="-38" class="lw">E</text><text x="190" y="-38" class="lw">A</text><text x="228" y="-38" class="lw">E</text><text x="266" y="-38" class="lk">B</text><text x="304" y="-38" class="lk">D</text><text x="342" y="-38" class="lk">C</text>
<text x="0" y="2290" class="lk">C</text><text x="38" y="2290" class="lk">B</text><text x="76" y="2290" class="lk">D</text><text x="114" y="2290" class="lw">A</text><text x="152" y="2290" class="lw">E</text><text x="190" y="2290" class="lw">A</text><text x="228" y="2290" class="lw">E</text><text x="266" y="2290" class="lk">B</text><text x="304" y="2290" class="lk">D</text><text x="342" y="2290" class="lk">C</text>
</g>
</g>
<text class="wm" x="215" y="1181" textLength="154" lengthAdjust="spacingAndGlyphs">BRACELETBOOK.COM</text>
</svg>
